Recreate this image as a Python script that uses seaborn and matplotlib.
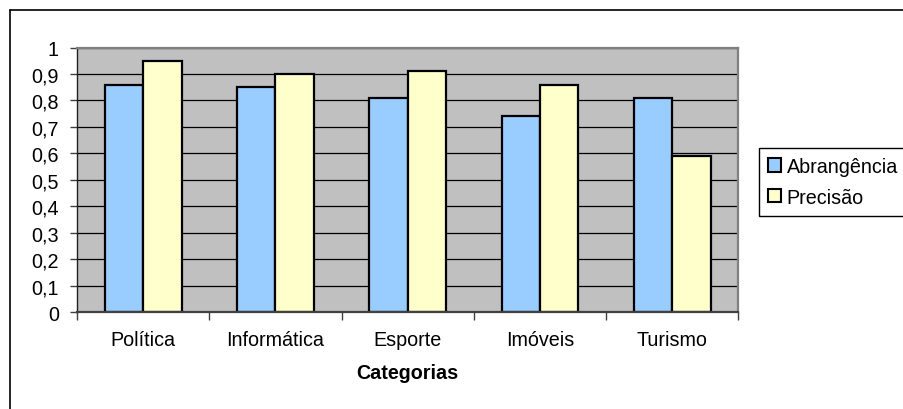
import matplotlib
matplotlib.use("Agg")
import matplotlib.pyplot as plt
from matplotlib.patches import Patch
from matplotlib.lines import Line2D
import seaborn as sns
import pandas as pd

# Classification quality per category
categorias = ["Política", "Informática", "Esporte", "Imóveis", "Turismo"]
abrangencia = [0.86, 0.85, 0.81, 0.74, 0.81]
precisao = [0.95, 0.90, 0.91, 0.86, 0.59]
series = ["Abrangência", "Precisão"]
cores = ["#99CCFF", "#FFFFCC"]
y_ticks = [0, 0.1, 0.2, 0.3, 0.4, 0.5, 0.6, 0.7, 0.8, 0.9, 1.0]
y_labels = ["0", "0,1", "0,2", "0,3", "0,4", "0,5", "0,6", "0,7", "0,8", "0,9", "1"]

df = pd.DataFrame({
    "Categoria": categorias * 2,
    "Valor": abrangencia + precisao,
    "Serie": [series[0]] * len(categorias) + [series[1]] * len(categorias),
})

sns.set_style("white")
plt.rcParams["font.family"] = ["Liberation Sans", "DejaVu Sans"]
plt.rcParams["text.color"] = "black"
plt.rcParams["axes.labelcolor"] = "black"
plt.rcParams["xtick.color"] = "black"
plt.rcParams["ytick.color"] = "black"
FS = 14.2

fig = plt.figure(figsize=(9.04, 4.10), dpi=100)
ax = fig.add_axes([77 / 904, 1 - 313.3 / 410, (738.5 - 77) / 904, (313.3 - 48.5) / 410])
ax.set_facecolor("#C0C0C0")

sns.barplot(data=df, x="Categoria", y="Valor", hue="Serie", order=categorias,
            hue_order=series, palette=cores, saturation=1, width=0.58,
            edgecolor="black", linewidth=1.6, legend=False, ax=ax, zorder=3)

ax.set_xlim(-0.5, len(categorias) - 0.5)
ax.set_ylim(0, 1)

# horizontal grid
ax.set_yticks(y_ticks)
ax.set_yticklabels(y_labels, fontsize=FS, color="black")
ax.yaxis.grid(True, color="black", linewidth=0.9, zorder=0)
ax.xaxis.grid(False)
ax.set_axisbelow(True)
ax.tick_params(axis="y", direction="out", length=5, width=1, color="#404040",
               labelcolor="black", pad=8, left=True)

# category labels centered, tick marks on the boundaries
ax.set_xticks([i - 0.5 for i in range(len(categorias) + 1)])
ax.set_xticklabels([])
ax.set_xticks(range(len(categorias)), minor=True)
ax.set_xticklabels(categorias, minor=True, fontsize=FS, color="black")
ax.tick_params(axis="x", which="major", direction="out", length=6, width=1,
               color="#404040", bottom=True)
ax.tick_params(axis="x", which="minor", length=0, pad=13, labelcolor="black")

ax.set_xlabel("Categorias", fontsize=FS, fontweight="bold", labelpad=10,
              color="black")
ax.set_ylabel("")

for side in ("top", "right"):
    ax.spines[side].set_color("#808080")
    ax.spines[side].set_linewidth(1.6)
ax.spines["left"].set_color("#202020")
ax.spines["left"].set_linewidth(1.0)
ax.spines["bottom"].set_color("#404040")
ax.spines["bottom"].set_linewidth(1.6)
for s in ax.spines.values():
    s.set_zorder(4)

handles = [Patch(facecolor=c, edgecolor="black", linewidth=1.5) for c in cores]
leg = fig.legend(handles, series, loc="upper left",
                 bbox_to_anchor=(759 / 904, 1 - 149 / 410),
                 bbox_transform=fig.transFigure, fontsize=FS, frameon=True,
                 fancybox=False, edgecolor="black", framealpha=1,
                 handlelength=0.65, handleheight=0.65, handletextpad=0.3,
                 labelspacing=0.6, borderpad=0.45, borderaxespad=0)
leg.get_frame().set_linewidth(1.0)
for t in leg.get_texts():
    t.set_color("black")

# outer chart frame
fig.add_artist(Line2D([9.5 / 904, 1], [1 - 10.5 / 410, 1 - 10.5 / 410],
                      transform=fig.transFigure, color="black", linewidth=1.2))
fig.add_artist(Line2D([9.5 / 904, 9.5 / 904], [0, 1 - 10.5 / 410],
                      transform=fig.transFigure, color="black", linewidth=1.2))

fig.savefig("out.png", dpi=100)
